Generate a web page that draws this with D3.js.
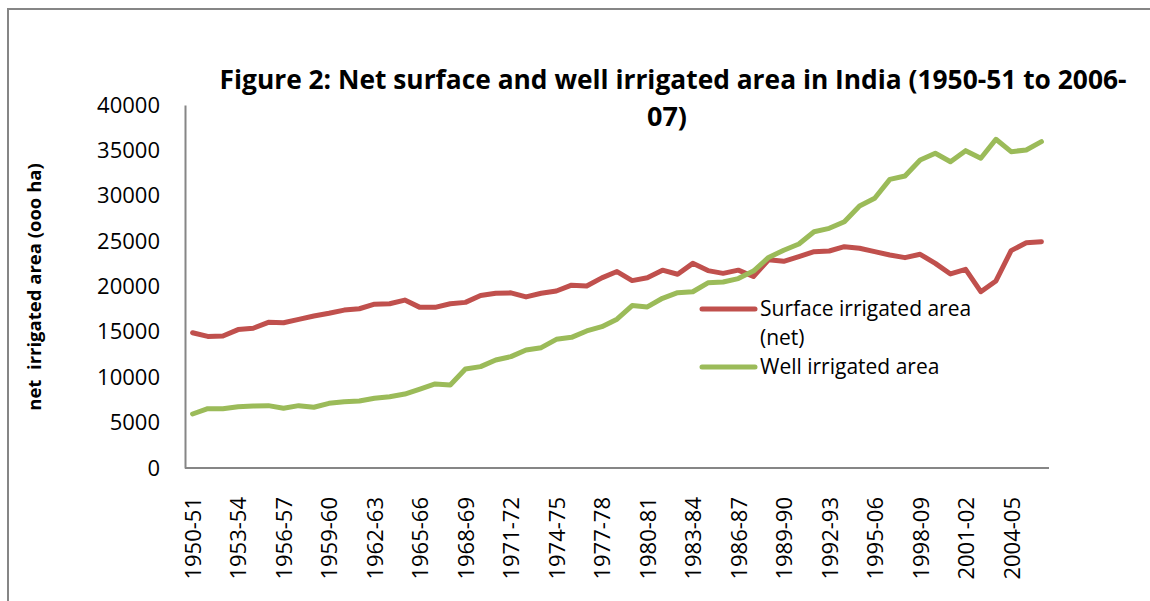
<!DOCTYPE html>
<html>
<head>
<meta charset="utf-8">
<script src="https://cdn.jsdelivr.net/npm/d3@7"></script>
<style>
  html, body { margin: 0; padding: 0; background: #fff; }
  svg { display: block; }
  text { font-family: "Open Sans", "Noto Sans", sans-serif; fill: #000; }
</style>
</head>
<body>
<svg id="chart" width="1150" height="601"></svg>
<script>
const categories = [
  "1950-51","1951-52","1952-53","1953-54","1954-55","1955-56","1956-57","1957-58","1958-59","1959-60",
  "1960-61","1961-62","1962-63","1963-64","1964-65","1965-66","1966-67","1967-68","1968-69","1969-70",
  "1970-71","1971-72","1972-73","1973-74","1974-75","1975-76","1976-77","1977-78","1978-79","1979-80",
  "1980-81","1981-82","1982-83","1983-84","1984-85","1985-86","1986-87","1987-88","1988-89","1989-90",
  "1990-91","1991-92","1992-93","1993-94","1994-95","1995-06","1996-97","1997-98","1998-09","1999-00",
  "2000-01","2001-02","2002-03","2003-04","2004-05","2005-06","2006-07"
];
const surfaceIrrigated = [
  14900,14500,14550,15250,15400,16050,16000,16380,16750,17050,
  17400,17550,18050,18100,18500,17700,17700,18100,18250,19000,
  19250,19300,18850,19250,19500,20150,20050,20950,21650,20650,
  20970,21800,21350,22550,21750,21450,21800,21100,22950,22780,
  23290,23840,23910,24390,24210,23840,23470,23180,23550,22550,
  21380,21890,19430,20610,23950,24830,24940
];
const wellIrrigated = [
  5950,6540,6540,6760,6830,6870,6580,6870,6690,7130,
  7310,7380,7680,7860,8150,8700,9260,9150,10900,11170,
  11900,12270,13000,13260,14180,14400,15100,15570,16400,17900,
  17750,18700,19320,19420,20400,20500,20870,21700,23200,24000,
  24680,26040,26410,27140,28870,29720,31810,32180,33940,34680,
  33750,34970,34130,36220,34860,35040,35960
];
const seriesNames = ["Surface irrigated area", "Well irrigated area"];
const yTicks = [0,5000,10000,15000,20000,25000,30000,35000,40000];
const xTickLabels = categories.filter((d, i) => i % 3 === 0);
const titleLines = ["Figure 2: Net surface and well irrigated area in India (1950-51 to 2006-", "07)"];
const yAxisTitle = "net\u00a0 irrigated area (ooo ha)";

const svg = d3.select("#chart");
const plot = { left: 185, right: 1049, top: 105, bottom: 468 };
const axisColor = "#868686";
const colors = ["#C0504D", "#9BBB59"];

// outer chart border (extends past the window on right/bottom)
svg.append("rect")
  .attr("x", 8).attr("y", 9).attr("width", 1200).attr("height", 700)
  .attr("fill", "none").attr("stroke", axisColor).attr("stroke-width", 2);

const x = d3.scalePoint().domain(categories).range([plot.left, plot.right]).padding(0.5);
const y = d3.scaleLinear().domain([0, 40000]).range([plot.bottom, plot.top]);

// Y axis
const yAxis = svg.append("g")
  .attr("transform", `translate(${plot.left},0)`)
  .call(d3.axisLeft(y).tickValues(yTicks).tickSize(0).tickSizeOuter(0).tickPadding(25).tickFormat(d3.format("d")));
yAxis.select(".domain").attr("stroke", axisColor).attr("stroke-width", 2);
yAxis.selectAll("text")
  .style("font-family", '"Open Sans", sans-serif')
  .style("font-size", "22px").attr("fill", "#000");

// X axis
const xAxis = svg.append("g")
  .attr("transform", `translate(0,${plot.bottom})`)
  .call(d3.axisBottom(x).tickValues(xTickLabels).tickSize(0).tickSizeOuter(0));
xAxis.select(".domain").attr("stroke", axisColor).attr("stroke-width", 2)
  .attr("d", `M${plot.left},0H${plot.right}`);
xAxis.selectAll("text")
  .style("font-family", '"Open Sans", sans-serif')
  .style("font-size", "22px").attr("fill", "#000")
  .attr("transform", "rotate(-90)")
  .attr("text-anchor", "end")
  .attr("x", -29).attr("y", 0).attr("dy", "0.36em");

// lines
const line = d3.line().x((d, i) => x(categories[i])).y(d => y(d));
[surfaceIrrigated, wellIrrigated].forEach((s, k) => {
  svg.append("path")
    .datum(s)
    .attr("d", line)
    .attr("fill", "none")
    .attr("stroke", colors[k])
    .attr("stroke-width", 5)
    .attr("stroke-linejoin", "round")
    .attr("stroke-linecap", "round");
});

// title
const title = svg.append("g");
title.append("text")
  .attr("x", 673).attr("y", 89).attr("text-anchor", "middle")
  .attr("font-weight", "bold").attr("font-size", 27)
  .attr("textLength", 907).attr("lengthAdjust", "spacingAndGlyphs")
  .text(titleLines[0]);
title.append("text")
  .attr("x", 667).attr("y", 126).attr("text-anchor", "middle")
  .attr("font-weight", "bold").attr("font-size", 27)
  .text(titleLines[1]);

// y axis title
svg.append("text")
  .attr("transform", "translate(35,287) rotate(-90)")
  .attr("text-anchor", "middle").attr("dy", "0.35em")
  .attr("font-weight", "bold").attr("font-size", 18.5)
  .text(yAxisTitle);

// legend
const legend = svg.append("g");
const legendItems = [
  { name: seriesNames[0], lines: ["Surface irrigated area", "(net)"], ly: 309, ty: 316 },
  { name: seriesNames[1], lines: ["Well irrigated area"], ly: 367, ty: 374 }
];
legendItems.forEach((it, k) => {
  legend.append("line")
    .attr("x1", 702).attr("x2", 755).attr("y1", it.ly).attr("y2", it.ly)
    .attr("stroke", colors[k]).attr("stroke-width", 5).attr("stroke-linecap", "round");
  it.lines.forEach((t, j) => {
    legend.append("text")
      .attr("x", 760).attr("y", it.ty + j * 29)
      .attr("font-size", 21)
      .text(t);
  });
});
</script>
</body>
</html>
